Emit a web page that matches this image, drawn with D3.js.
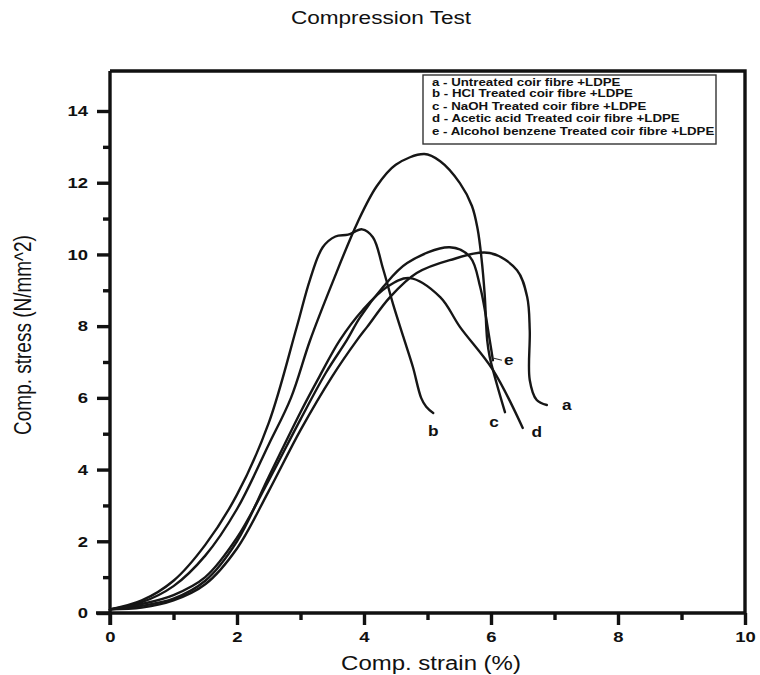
<!DOCTYPE html>
<html>
<head>
<meta charset="utf-8">
<script src="https://cdn.jsdelivr.net/npm/d3@7/dist/d3.min.js"></script>
<style>
  html, body { margin: 0; padding: 0; background: #fff; }
  svg { display: block; font-family: "Liberation Sans", Arial, sans-serif; }
</style>
</head>
<body>
<svg id="chart" width="760" height="675"></svg>
<script>
// ---- Data ----
const seriesNames = ["a", "b", "c", "d", "e"];
const legendLabels = [
  "a - Untreated coir fibre +LDPE",
  "b - HCl Treated coir fibre +LDPE",
  "c - NaOH Treated coir fibre +LDPE",
  "d - Acetic acid Treated coir fibre +LDPE",
  "e - Alcohol benzene Treated coir fibre +LDPE"
];
// strain (%) and stress (N/mm^2) for each curve
const strainA = [0, 0.5, 1, 1.5, 2, 2.5, 3, 3.5, 3.89, 4.05, 4.41, 4.83, 5.35, 5.98, 6.41, 6.57, 6.61, 6.61, 6.72, 6.88];
const stressA = [0.1, 0.15, 0.35, 0.8, 1.8, 3.4, 5.1, 6.6, 7.61, 7.98, 8.81, 9.48, 9.84, 10.04, 9.56, 8.81, 7.89, 6.5, 5.94, 5.8];
const strainB = [0, 0.5, 1, 1.5, 2, 2.5, 2.94, 3.15, 3.35, 3.55, 3.75, 3.97, 4.14, 4.3, 4.46, 4.62, 4.77, 4.9, 4.98, 5.09];
const stressB = [0.1, 0.35, 0.9, 1.9, 3.3, 5.3, 7.97, 9.3, 10.2, 10.5, 10.55, 10.7, 10.48, 9.6, 8.6, 7.7, 6.86, 6.0, 5.75, 5.58];
const strainC = [0, 0.5, 1, 1.5, 2, 2.5, 2.85, 3.15, 3.5, 3.9, 4.2, 4.5, 4.95, 5.2, 5.51, 5.7, 5.79, 5.85, 5.9, 5.94, 5.98, 6.22];
const stressC = [0.1, 0.3, 0.75, 1.6, 2.9, 4.7, 6.0, 7.6, 9.2, 10.9, 11.9, 12.5, 12.8, 12.6, 11.99, 11.35, 10.7, 9.9, 8.9, 7.61, 7.14, 5.6];
const strainD = [0, 0.5, 1, 1.5, 2, 2.5, 3, 3.3, 3.62, 3.98, 4.36, 4.72, 5.2, 5.51, 6.03, 6.5];
const stressD = [0.1, 0.2, 0.4, 0.9, 2.0, 3.8, 5.6, 6.6, 7.61, 8.45, 9.09, 9.34, 8.81, 7.98, 6.78, 5.16];
const strainE = [0, 0.5, 1, 1.5, 2, 2.5, 3, 3.4, 3.73, 3.94, 4.3, 4.68, 5.35, 5.67, 5.83, 5.98, 6.03];
const stressE = [0.1, 0.25, 0.5, 1.0, 2.1, 3.7, 5.4, 6.7, 7.61, 8.25, 9.09, 9.76, 10.2, 9.93, 9.09, 7.61, 7.05];
const xTicks = [0, 2, 4, 6, 8, 10];
const yTicks = [0, 2, 4, 6, 8, 10, 12, 14];

const strains = [strainA, strainB, strainC, strainD, strainE];
const stresses = [stressA, stressB, stressC, stressD, stressE];
const series = seriesNames.map((n, i) => ({
  name: n,
  points: strains[i].map((s, j) => ({ x: s, y: stresses[i][j] }))
}));

// ---- Layout ----
const svg = d3.select("#chart");
const left = 110, right = 745, bottom = 613;
const x = d3.scaleLinear().domain([0, 10]).range([left, right]);
const y = d3.scaleLinear().domain([0, 14]).range([bottom, 111]);
const frameTop = 71;
const sx = 1.23; // horizontal stretch of the lettering in the reference
const ink = "#111";
const lw = 3.4;

// Title
svg.append("text").attr("transform", `translate(381,24) scale(${sx * 1.02},1)`)
  .attr("text-anchor", "middle").attr("font-size", 18).attr("fill", ink).text("Compression Test");

// Frame (top and right edges)
svg.append("path")
  .attr("d", `M${left},${frameTop}H${right}V${bottom}`)
  .attr("fill", "none").attr("stroke", ink).attr("stroke-width", lw);

// X axis
const xAxis = d3.axisBottom(x).tickValues(xTicks).tickSize(12).tickPadding(6).tickFormat(d3.format("d"));
const gx = svg.append("g").attr("transform", `translate(0,${bottom})`).call(xAxis);
gx.select(".domain").attr("d", `M${left - 14},0H${right}`);
gx.selectAll(".tick text").attr("transform", `scale(${sx},1)`);
const gxMinor = svg.append("g").attr("transform", `translate(0,${bottom})`)
  .call(d3.axisBottom(x).tickValues(d3.range(1, 10, 2)).tickSize(7).tickFormat(""));
gxMinor.select(".domain").remove();

// Y axis
const yAxis = d3.axisLeft(y).tickValues(yTicks).tickSize(13).tickPadding(7).tickFormat(d3.format("d"));
const gy = svg.append("g").attr("transform", `translate(${left},0)`).call(yAxis);
gy.select(".domain").attr("d", `M0,${bottom + 12}V${frameTop}`);
gy.selectAll(".tick text").attr("x", -22 / sx).attr("transform", `scale(${sx},1)`);
const gyMinor = svg.append("g").attr("transform", `translate(${left},0)`)
  .call(d3.axisLeft(y).tickValues(d3.range(1, 14, 2)).tickSize(7).tickFormat(""));
gyMinor.select(".domain").remove();

svg.selectAll(".domain, .tick line").attr("stroke", ink).attr("stroke-width", lw);
svg.selectAll(".tick text").attr("font-size", 15).attr("font-weight", "bold")
  .attr("fill", ink).attr("font-family", "'Liberation Sans', Arial, sans-serif");

// Axis titles
svg.append("text").attr("transform", `translate(431,670) scale(${sx},1)`).attr("text-anchor", "middle")
  .attr("font-size", 19.5).attr("fill", ink).text("Comp. strain (%)");
svg.append("text").attr("transform", `translate(31,335) scale(${sx},1) rotate(-90)`).attr("text-anchor", "middle")
  .attr("font-size", 19).attr("fill", ink).text("Comp. stress (N/mm^2)");

// Curves
const line = d3.line().x(d => x(d.x)).y(d => y(d.y)).curve(d3.curveCatmullRom.alpha(0.5));
svg.append("g").selectAll("path").data(series).join("path")
  .attr("d", d => line(d.points))
  .attr("fill", "none").attr("stroke", "#161616").attr("stroke-width", 2.4)
  .attr("stroke-linecap", "round");

// End labels (offsets in px from the last point)
const labelOffsets = { a: [20, 1], b: [0, 19], c: [-11, 11], d: [14, 5], e: [16, 1] };
series.forEach(s => {
  const last = s.points[s.points.length - 1];
  const [dx, dy] = labelOffsets[s.name];
  const px = x(last.x), py = y(last.y);
  if (s.name === "e") {
    svg.append("line").attr("x1", px + 1).attr("y1", py - 2).attr("x2", px + 9).attr("y2", py)
      .attr("stroke", "#333").attr("stroke-width", 1.2);
  }
  svg.append("text").attr("transform", `translate(${px + dx},${py + dy}) scale(${sx},1)`)
    .attr("text-anchor", "middle")
    .attr("dominant-baseline", "middle").attr("font-size", 14).attr("font-weight", "bold")
    .attr("fill", ink).text(s.name);
});

// Legend
const lg = svg.append("g");
lg.append("rect").attr("x", 423).attr("y", 75).attr("width", 293).attr("height", 69)
  .attr("fill", "#fff").attr("stroke", "#333").attr("stroke-width", 1.4);
const legendY = [86, 97, 110, 122, 135];
lg.selectAll("text").data(legendLabels).join("text")
  .attr("transform", (d, i) => `translate(432,${legendY[i]}) scale(${sx},1)`)
  .attr("font-size", 10.8).attr("font-weight", "bold").attr("fill", ink).text(d => d);
</script>
</body>
</html>
